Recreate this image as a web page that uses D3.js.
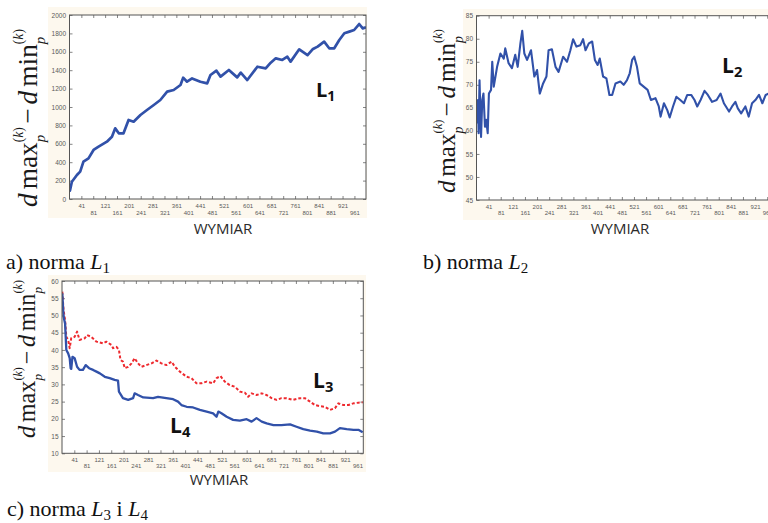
<!DOCTYPE html>
<html>
<head>
<meta charset="utf-8">
<script src="https://cdn.jsdelivr.net/npm/d3@7"></script>
<style>
  body { margin: 0; background: #fff; }
  svg { display: block; }
</style>
</head>
<body>
<div id="chart"></div>
<script>
// Data (x = wymiar, y = d max - d min)

// a) norma L1
const l1X = [1, 3, 9, 26, 37, 48, 65, 82, 99, 127, 144, 155, 167, 183, 200, 217, 240, 262, 285, 307, 330, 352, 375, 384, 397, 414, 442, 465, 476, 496, 510, 538, 566, 578, 600, 634, 662, 679, 696, 718, 735, 746, 775, 803, 820, 837, 859, 876, 893, 910, 927, 944, 960, 977, 989, 1000];
const l1Y = [80, 98, 188, 261, 297, 406, 442, 533, 569, 623, 677, 768, 714, 714, 859, 840, 913, 967, 1022, 1076, 1167, 1185, 1239, 1319, 1275, 1311, 1275, 1257, 1348, 1395, 1330, 1402, 1322, 1373, 1293, 1438, 1420, 1482, 1529, 1511, 1547, 1493, 1627, 1565, 1627, 1656, 1710, 1638, 1638, 1728, 1801, 1819, 1837, 1902, 1855, 1866];

// b) norma L2
const l2X = [2, 6, 8, 11, 16, 20, 24, 29, 33, 38, 42, 49, 53, 58, 69, 80, 91, 96, 107, 118, 129, 137, 146, 152, 159, 168, 181, 192, 201, 210, 221, 232, 239, 250, 262, 272, 287, 300, 311, 320, 331, 344, 353, 361, 372, 383, 392, 401, 408, 419, 430, 440, 449, 460, 476, 487, 498, 507, 515, 522, 531, 540, 553, 566, 577, 592, 603, 609, 620, 631, 639, 650, 661, 674, 686, 697, 710, 721, 730, 741, 754, 765, 779, 794, 807, 818, 835, 845, 856, 864, 875, 889, 900, 911, 922, 934, 945, 956, 965, 980, 1000];
const l2Y = [61.6, 66.7, 59.5, 71, 58.7, 66.7, 68.1, 60.9, 62.4, 59.5, 68.1, 68.9, 75, 69.6, 73.9, 76.8, 75.7, 77.9, 74.7, 73.6, 76.5, 73.9, 79, 81.7, 76.8, 75.4, 77.5, 71.8, 73.2, 68.1, 70.3, 71.8, 77.5, 77.7, 73.9, 72.8, 76.1, 75, 77.5, 79.9, 78.3, 78.6, 79.9, 77.5, 79, 79.4, 75.4, 74.3, 75.7, 71.8, 71.4, 67.8, 67.8, 70.3, 70.7, 70, 71, 72.5, 75.4, 76.1, 73.9, 70.3, 69.6, 68.9, 66.7, 67.1, 65.3, 63.1, 66, 64.5, 62.9, 65.3, 67.4, 66.7, 66, 67.8, 67.8, 66.7, 65.3, 66.7, 68.7, 67.8, 66.3, 66.7, 68.1, 66, 64.2, 65.3, 66.3, 64.9, 63.8, 65.3, 63.1, 66, 66.7, 67.8, 66, 67.8, 68.1, 67.5, 68];

// c) norma L3 (red, dashed) i L4 (blue)
const l3X = [2, 6, 11, 15, 21, 26, 31, 42, 50, 58, 75, 82, 96, 113, 134, 145, 162, 167, 178, 186, 191, 199, 205, 216, 227, 237, 248, 259, 275, 292, 308, 324, 340, 357, 368, 384, 406, 422, 438, 454, 471, 492, 503, 516, 530, 546, 563, 579, 595, 606, 617, 633, 650, 666, 682, 698, 714, 731, 752, 774, 790, 807, 823, 839, 855, 872, 888, 899, 915, 932, 948, 964, 978];
const l3Y = [56.9, 51.6, 48.7, 43.8, 42.9, 40.5, 43.4, 43.8, 45.3, 42.9, 43.4, 44.3, 43.8, 42.4, 41.9, 42.4, 41.4, 40.5, 40.9, 40, 37.1, 36.6, 34.7, 35.1, 36.1, 37.6, 36.1, 35.1, 35.6, 36.1, 36.9, 36.1, 35.6, 36.6, 35.1, 33.7, 32.2, 31.8, 30.3, 30.3, 30.8, 30.3, 31.8, 32.4, 30.8, 29.8, 29.3, 27.9, 27.6, 26.4, 27.4, 26.9, 27.4, 26.9, 26, 25.5, 26, 26, 25.5, 26, 26, 25, 24, 23.7, 23.5, 22.6, 23.1, 24.5, 24, 24, 24.5, 24.7, 24.8];
const l4X = [2, 6, 11, 15, 21, 26, 29, 31, 35, 42, 50, 58, 69, 78, 89, 102, 113, 124, 140, 156, 172, 183, 186, 199, 216, 232, 237, 248, 265, 297, 313, 340, 362, 378, 389, 406, 427, 449, 471, 492, 503, 509, 519, 536, 557, 579, 601, 617, 633, 650, 666, 688, 714, 742, 763, 785, 807, 829, 850, 872, 888, 904, 926, 948, 964, 978];
const l4Y = [56.4, 49.7, 47.7, 40, 39, 37.6, 34.7, 34.5, 38, 37.6, 35.1, 34.2, 34.2, 35.6, 34.7, 34.2, 33.7, 33.2, 32.2, 31.8, 31.3, 31.1, 27.9, 26, 25.5, 26, 27.4, 26.9, 26.2, 26, 26.4, 26, 25.7, 25, 24, 23.5, 23.3, 22.6, 22.1, 21.6, 20.6, 22.1, 21.6, 20.6, 19.7, 19.5, 19.9, 19.2, 20.2, 19.2, 18.7, 18.2, 18.2, 18.4, 17.7, 17, 16.6, 16.3, 15.8, 15.8, 16.3, 17.3, 17, 16.8, 16.8, 16.1];

// Tick labels
const xTicks = [41, 81, 121, 161, 201, 241, 281, 321, 361, 401, 441, 481, 521, 561, 601, 641, 681, 721, 761, 801, 841, 881, 921, 961];
const yTicksA = [0, 200, 400, 600, 800, 1000, 1200, 1400, 1600, 1800, 2000];
const yTicksB = [45, 50, 55, 60, 65, 70, 75, 80, 85];
const yTicksC = [10, 15, 20, 25, 30, 35, 40, 45, 50, 55, 60];

// Look
const width = 768;
const height = 523;
const blue = "#3151a9";
const red = "#ee2a2f";
const cream = "#fdf8ee";
const serif = "'Liberation Serif', 'Times New Roman', Times, serif";
const sans = "'Liberation Sans', Arial, sans-serif";
const labelSans = "'Open Sans', 'Liberation Sans', sans-serif";

const svg = d3
  .select("#chart")
  .append("svg")
  .attr("width", width)
  .attr("height", height);

let clipId = 0;

// One framed plot with its cream backdrop, ticks and lines
function drawPanel(p) {
  const g = svg.append("g");

  g.append("rect")
    .attr("x", p.bg[0])
    .attr("y", p.bg[1])
    .attr("width", p.bg[2] - p.bg[0])
    .attr("height", p.bg[3] - p.bg[1])
    .attr("fill", cream);

  const x = d3.scaleLinear().domain(p.xDomain).range([p.left, p.right]);
  const y = d3.scaleLinear().domain(p.yDomain).range([p.bottom, p.top]);

  g.append("rect")
    .attr("x", p.left)
    .attr("y", p.top)
    .attr("width", p.right - p.left)
    .attr("height", p.bottom - p.top)
    .attr("fill", "#fff");

  // ticks point inward on all four sides
  const fmt = d3.format("d");
  const axes = [
    { ax: d3.axisLeft(y).tickValues(p.yTicks).tickFormat(fmt).tickSize(-3).tickPadding(3.5), at: [p.left, 0] },
    { ax: d3.axisRight(y).tickValues(p.yTicks).tickSize(-3).tickFormat(""), at: [p.right, 0] },
    { ax: d3.axisTop(x).tickValues(xTicks).tickSize(-3).tickFormat(""), at: [0, p.top] },
    { ax: d3.axisBottom(x).tickValues(xTicks).tickFormat(fmt).tickSize(-3).tickPadding(0), at: [0, p.bottom], bottom: true },
  ];
  axes.forEach((a) => {
    const ag = g.append("g")
      .attr("transform", `translate(${a.at[0]},${a.at[1]})`)
      .call(a.ax);
    ag.select(".domain").remove();
    ag.selectAll("line").attr("stroke", "#666").attr("stroke-width", 0.8);
    ag.selectAll("text")
      .attr("fill", "#5a5a5a")
      .attr("font-family", sans)
      .attr("font-size", a.bottom ? 6 : 6.5);
    // alternate the labels on two rows
    if (a.bottom) {
      ag.selectAll("text").attr("dy", null).attr("y", (d, i) => (i % 2 ? p.row2 : p.row1));
    }
  });

  const clip = "clip" + clipId++;
  g.append("clipPath").attr("id", clip)
    .append("rect")
    .attr("x", p.left)
    .attr("y", p.top)
    .attr("width", p.right - p.left)
    .attr("height", p.bottom - p.top);

  const line = d3.line().x((d) => x(d[0])).y((d) => y(d[1]));
  p.series.forEach((s) => {
    g.append("path")
      .datum(d3.zip(s.xs, s.ys))
      .attr("clip-path", `url(#${clip})`)
      .attr("fill", "none")
      .attr("stroke", s.color)
      .attr("stroke-width", s.width)
      .attr("stroke-dasharray", s.dash || null)
      .attr("stroke-linejoin", "round")
      .attr("d", line);
  });

  g.append("rect")
    .attr("x", p.left)
    .attr("y", p.top)
    .attr("width", p.right - p.left)
    .attr("height", p.bottom - p.top)
    .attr("fill", "none")
    .attr("stroke", "#555")
    .attr("stroke-width", 1);

  g.append("text")
    .attr("x", p.titleX)
    .attr("y", p.titleY)
    .attr("text-anchor", "middle")
    .attr("font-family", labelSans)
    .attr("font-size", 15)
    .attr("fill", "#2a2a2a")
    .text("WYMIAR");
}

// Rotated math label: d max_p^(k) - d min_p^(k), fitted to a given length
function yLabel(cx, yBottom, len) {
  const S = 20;
  const g = svg.append("g").attr("font-family", serif).attr("fill", "#1a1a1a");
  let pos = 0;

  function put(parts, size, dy) {
    const t = g.append("text").attr("x", pos).attr("y", dy).attr("font-size", size);
    parts.forEach(([txt, it]) => {
      t.append("tspan").attr("font-style", it ? "italic" : "normal").text(txt);
    });
    return t.node().getComputedTextLength();
  }
  function stack() {
    const a = put([["(", 0], ["k", 1], [")", 0]], S * 0.5, -S * 0.52);
    const b = put([["p", 1]], S * 0.55, S * 0.3);
    pos += Math.max(a, b);
  }

  pos += put([["d", 1]], S, 0) + S * 0.15;
  pos += put([["max", 0]], S, 0);
  stack();
  pos += S * 0.12;
  pos += put([["\u2212", 0]], S, 0) + S * 0.15;
  pos += put([["d", 1]], S, 0) + S * 0.15;
  pos += put([["min", 0]], S, 0);
  stack();

  const k = len / pos;
  g.attr("transform", `translate(${cx},${yBottom}) rotate(-90) scale(${k})`);
}

// Bold series name with a subscript digit
function seriesName(x, y, letter, sub, size) {
  const t = svg.append("text")
    .attr("x", x)
    .attr("y", y)
    .attr("font-family", labelSans)
    .attr("font-weight", 700)
    .attr("font-size", size)
    .attr("fill", "#111");
  t.append("tspan").text(letter);
  t.append("tspan").attr("font-size", size * 0.7).attr("dy", 4).text(sub);
}

// Caption under a panel: parts are [text, italic, baselineShift]
function caption(x, y, parts) {
  const t = svg.append("text")
    .attr("x", x)
    .attr("y", y)
    .attr("font-family", serif)
    .attr("font-size", 22)
    .attr("fill", "#111");
  parts.forEach(([txt, it, shift]) => {
    t.append("tspan")
      .attr("font-style", it ? "italic" : "normal")
      .attr("font-size", shift > 0 ? 15 : null)
      .attr("dy", shift || null)
      .text(txt);
  });
}

drawPanel({
  bg: [48, 7, 367, 218],
  left: 69.5, right: 366, top: 15, bottom: 199,
  xDomain: [1, 1000], yDomain: [0, 2000], yTicks: yTicksA,
  series: [{ xs: l1X, ys: l1Y, color: blue, width: 2.7 }],
  titleX: 223, titleY: 234, row1: 9, row2: 15.5,
});
yLabel(37, 207, 178);
seriesName(316, 97, "L", "1", 20);
caption(6, 269, [["a) norma ", 0], ["L", 1], ["1", 0, 4]]);

drawPanel({
  bg: [463, 9, 780, 220],
  left: 476.5, right: 779, top: 15.7, bottom: 200,
  xDomain: [1, 1000], yDomain: [45, 85], yTicks: yTicksB,
  series: [{ xs: l2X, ys: l2Y, color: blue, width: 2.1 }],
  titleX: 620, titleY: 234, row1: 8.5, row2: 14.5,
});
yLabel(455, 193, 164);
seriesName(722, 73, "L", "2", 21);
caption(423, 269, [["b) norma ", 0], ["L", 1], ["2", 0, 4]]);

drawPanel({
  bg: [48, 275, 366, 472],
  left: 62, right: 363.3, top: 281, bottom: 453.3,
  xDomain: [1, 980], yDomain: [10, 60], yTicks: yTicksC,
  series: [
    { xs: l3X, ys: l3Y, color: red, width: 2, dash: "3,2" },
    { xs: l4X, ys: l4Y, color: blue, width: 2.3 },
  ],
  titleX: 219, titleY: 485, row1: 8.5, row2: 14.5,
});
yLabel(35, 438, 158);
seriesName(313, 388, "L", "3", 21);
seriesName(170, 433, "L", "4", 21);
caption(7, 516, [["c) norma ", 0], ["L", 1], ["3", 0, 4], [" i ", 0, -4], ["L", 1], ["4", 0, 4]]);
</script>
</body>
</html>
